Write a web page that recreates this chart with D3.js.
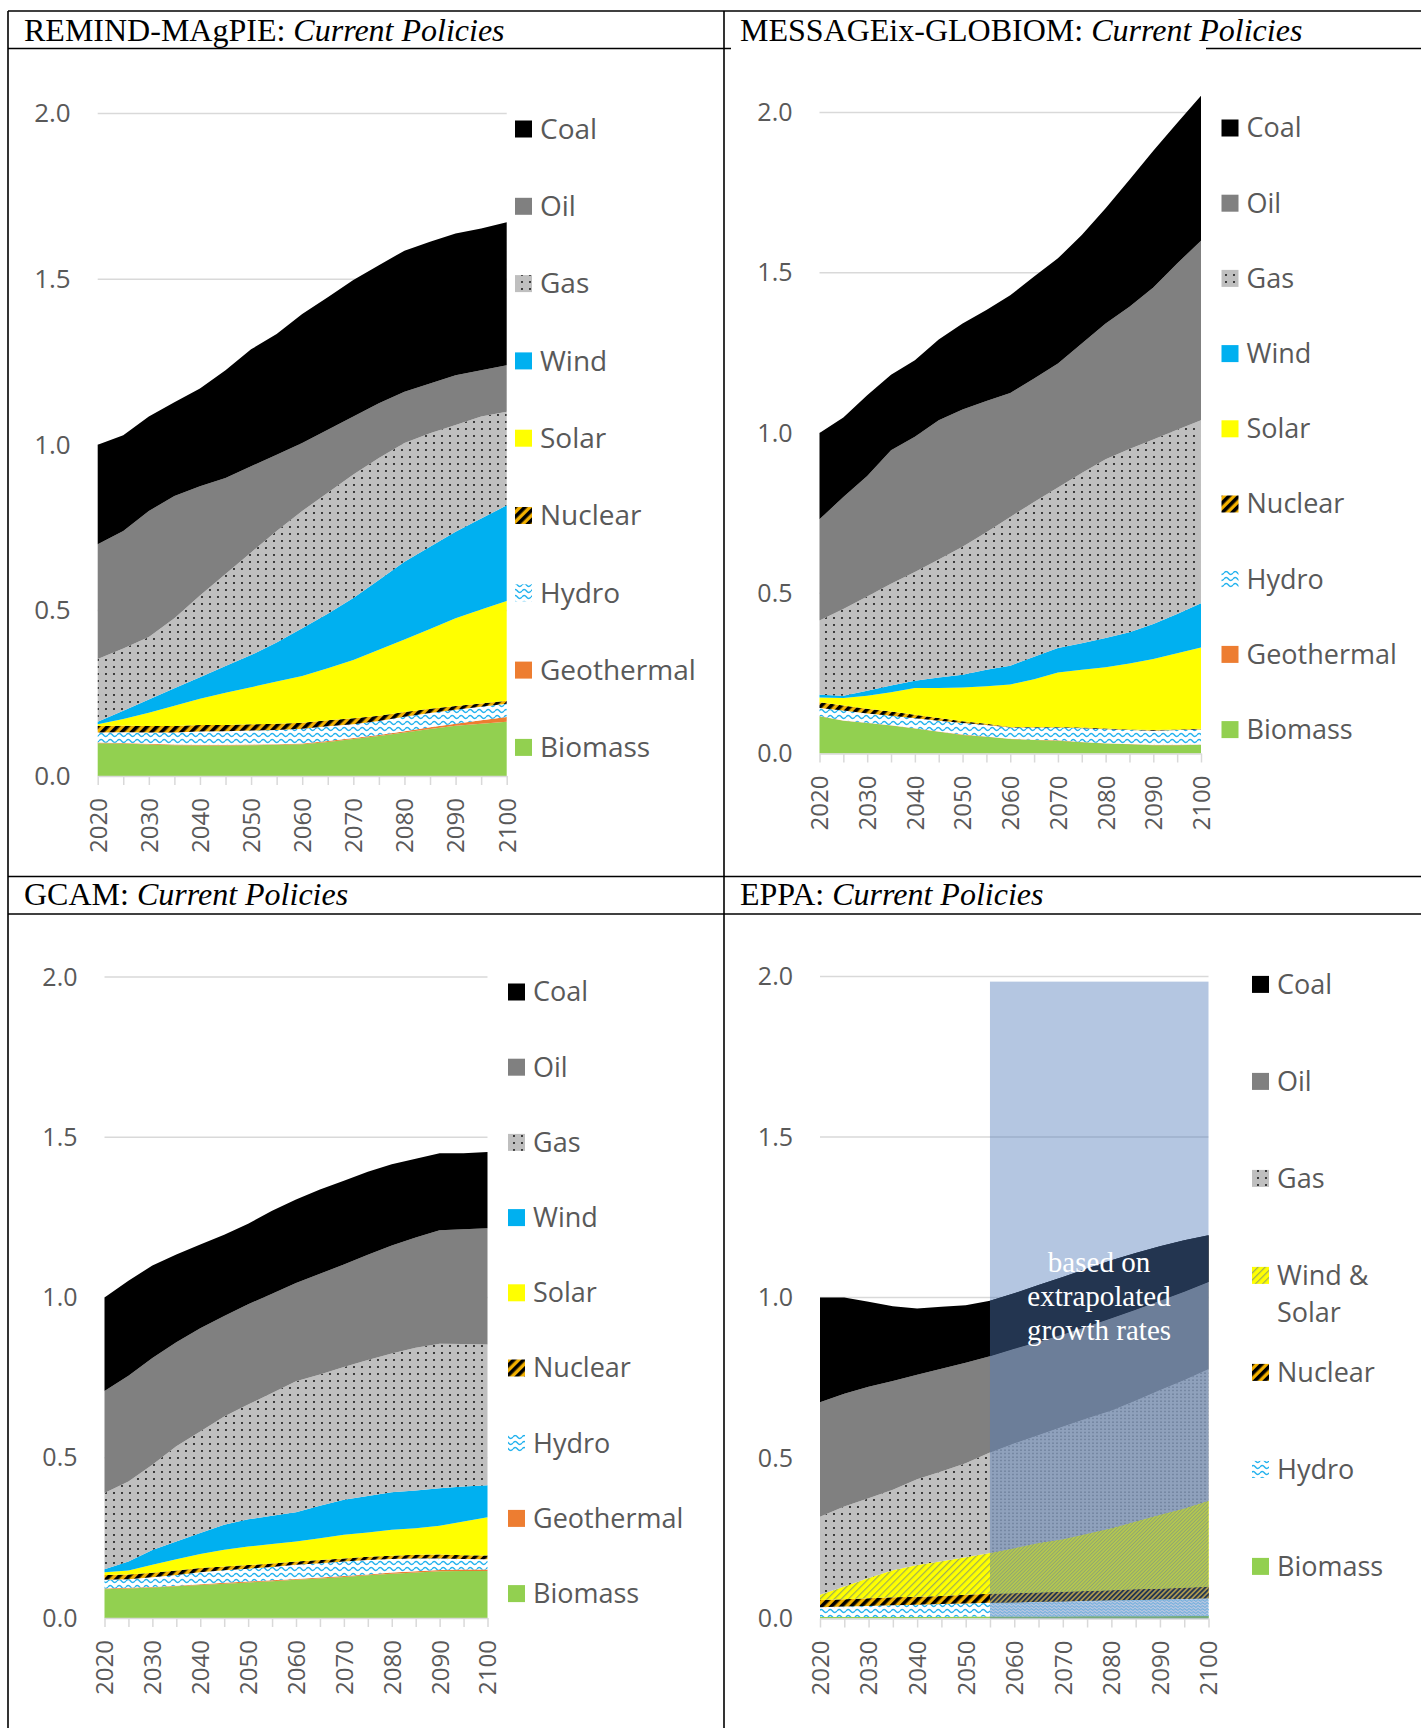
<!DOCTYPE html>
<html>
<head>
<meta charset="utf-8">
<script src="https://cdn.jsdelivr.net/npm/d3@7"></script>
<style>
  html, body { margin: 0; padding: 0; background: #fff; }
  svg { display: block; }
</style>
</head>
<body>
<svg id="fig" width="1421" height="1728"></svg>
<script>
// ---------- data (EJ-equivalent index, 2020 = 1.0) ----------
const years = [2020, 2025, 2030, 2035, 2040, 2045, 2050, 2055, 2060, 2065, 2070, 2075, 2080, 2085, 2090, 2095, 2100];
const yTicks = [0, 0.5, 1, 1.5, 2];

// REMIND-MAgPIE
const remindBiomass    = [.099,.098,.095,.093,.092,.092,.093,.094,.096,.103,.112,.121,.131,.142,.152,.158,.164];
const remindGeothermal = [.002,.002,.002,.002,.002,.002,.002,.002,.002,.003,.003,.003,.004,.005,.006,.010,.014];
const remindHydro      = [.030,.032,.034,.036,.040,.041,.042,.043,.045,.044,.041,.042,.044,.043,.042,.041,.040];
const remindNuclear    = [.020,.020,.020,.020,.020,.019,.019,.019,.018,.018,.018,.016,.014,.013,.011,.010,.009];
const remindSolar      = [.005,.020,.040,.061,.079,.097,.112,.127,.141,.157,.176,.199,.219,.241,.265,.284,.301];
const remindWind       = [.008,.025,.040,.053,.065,.081,.097,.118,.144,.165,.187,.211,.235,.248,.261,.274,.289];
const remindGas        = [.189,.188,.189,.211,.247,.278,.310,.337,.354,.365,.373,.368,.358,.343,.323,.308,.283];
const remindOil        = [.347,.355,.380,.369,.330,.290,.260,.230,.205,.190,.175,.165,.155,.150,.150,.140,.140];
const remindCoal       = [.300,.289,.285,.283,.295,.325,.353,.364,.390,.400,.412,.417,.426,.428,.428,.428,.432];

// MESSAGEix-GLOBIOM
const messageBiomass    = [.116,.102,.095,.087,.078,.068,.058,.052,.045,.042,.040,.035,.031,.029,.026,.026,.027];
const messageGeothermal = [.001,.001,.001,.001,.001,.001,.001,.001,.001,.001,.001,.001,.001,.001,.001,.001,.001];
const messageHydro      = [.025,.031,.029,.030,.031,.033,.036,.036,.035,.038,.040,.043,.044,.043,.044,.046,.047];
const messageNuclear    = [.018,.016,.015,.013,.011,.009,.006,.004,.002,.002,.002,.002,.002,.002,.002,.002,.002];
const messageSolar      = [.015,.023,.040,.060,.083,.093,.105,.117,.132,.149,.170,.180,.191,.206,.222,.238,.254];
const messageWind       = [.008,.007,.016,.021,.023,.033,.040,.051,.059,.070,.076,.083,.091,.097,.109,.122,.138];
const messageGas        = [.232,.271,.294,.318,.339,.368,.399,.429,.464,.483,.501,.531,.558,.572,.576,.575,.571];
const messageOil        = [.316,.349,.376,.416,.422,.435,.428,.410,.387,.385,.387,.404,.424,.444,.474,.519,.560];
const messageCoal       = [.269,.248,.252,.236,.239,.252,.269,.284,.305,.318,.328,.339,.359,.396,.427,.438,.452];

// GCAM
const gcamBiomass    = [.090,.092,.095,.099,.103,.107,.111,.115,.119,.123,.128,.133,.138,.142,.146,.147,.147];
const gcamGeothermal = [.002,.002,.002,.002,.002,.003,.003,.003,.003,.003,.003,.003,.004,.004,.004,.004,.004];
const gcamHydro      = [.027,.027,.030,.033,.038,.039,.040,.041,.044,.045,.045,.045,.042,.040,.036,.033,.032];
const gcamNuclear    = [.015,.015,.014,.014,.013,.012,.011,.011,.010,.010,.010,.010,.010,.011,.012,.012,.012];
const gcamSolar      = [.009,.012,.025,.035,.044,.052,.058,.061,.063,.068,.074,.076,.081,.083,.090,.105,.119];
const gcamWind       = [.009,.028,.046,.056,.065,.078,.085,.088,.091,.101,.109,.114,.117,.118,.117,.109,.100];
const gcamGas        = [.238,.250,.266,.297,.317,.338,.358,.383,.409,.410,.414,.424,.433,.445,.451,.445,.439];
const gcamOil        = [.318,.330,.333,.324,.322,.313,.313,.310,.306,.314,.320,.328,.337,.344,.354,.358,.363];
const gcamCoal       = [.292,.296,.289,.274,.261,.254,.251,.259,.261,.263,.261,.259,.254,.246,.240,.237,.238];

// EPPA (values after 2055 follow extrapolated growth rates)
const eppaBiomass   = [.005,.005,.005,.005,.005,.005,.006,.006,.006,.006,.006,.007,.007,.007,.007,.008,.008];
const eppaHydro     = [.030,.032,.034,.036,.038,.040,.041,.043,.044,.046,.047,.048,.050,.051,.053,.053,.055];
const eppaNuclear   = [.023,.023,.024,.025,.025,.025,.027,.028,.029,.029,.030,.031,.031,.033,.033,.035,.036];
const eppaWindSolar = [.016,.040,.063,.084,.099,.108,.117,.127,.140,.154,.164,.178,.193,.211,.230,.247,.268];
const eppaGas       = [.243,.249,.249,.251,.267,.280,.293,.313,.327,.337,.351,.360,.367,.377,.389,.400,.410];
const eppaOil       = [.357,.351,.347,.339,.325,.320,.313,.300,.294,.290,.287,.286,.287,.283,.278,.275,.271];
const eppaCoal      = [.326,.300,.265,.233,.207,.193,.179,.173,.173,.177,.179,.180,.181,.177,.170,.160,.146];
const eppaExtrapolationStart = 2055;

// ---------- drawing ----------
const svg = d3.select('#fig');
const defs = svg.append('defs');
const AXIS_GREY = '#d9d9d9';
const TEXT_GREY = '#595959';
const SANS = '"Open Sans", "DejaVu Sans", sans-serif';
const SERIF = '"Liberation Serif", "Times New Roman", serif';

// Fill patterns; the suffixed set is a finer version used for the extrapolated EPPA years
function makePatterns(suffix, scale) {
  const sc = scale === 1 ? '' : `scale(${scale}) `;

  const gas = defs.append('pattern').attr('id', 'gasDots' + suffix)
    .attr('patternUnits', 'userSpaceOnUse').attr('width', 8).attr('height', 7);
  if (sc) gas.attr('patternTransform', sc);
  gas.append('rect').attr('width', 8).attr('height', 7).attr('fill', '#bfbfbf');
  gas.append('circle').attr('cx', 2).attr('cy', 2).attr('r', 1.05).attr('fill', '#1a1a1a');

  const nuc = defs.append('pattern').attr('id', 'nucStripes' + suffix)
    .attr('patternUnits', 'userSpaceOnUse').attr('width', 7).attr('height', 7)
    .attr('patternTransform', sc + 'rotate(45)');
  nuc.append('rect').attr('width', 7).attr('height', 7).attr('fill', '#f2b000');
  nuc.append('rect').attr('width', 3.6).attr('height', 7).attr('fill', '#000');

  const hyd = defs.append('pattern').attr('id', 'hydroWaves' + suffix)
    .attr('patternUnits', 'userSpaceOnUse').attr('width', 9).attr('height', 6);
  if (sc) hyd.attr('patternTransform', sc);
  hyd.append('rect').attr('width', 9).attr('height', 6).attr('fill', '#fff');
  hyd.append('path').attr('d', 'M0,3 C1.5,1 3,1 4.5,3 S7.5,5 9,3')
    .attr('fill', 'none').attr('stroke', '#22b2ee').attr('stroke-width', 1.4);

  const ws = defs.append('pattern').attr('id', 'wsHatch' + suffix)
    .attr('patternUnits', 'userSpaceOnUse').attr('width', 5).attr('height', 5)
    .attr('patternTransform', sc + 'rotate(45)');
  ws.append('rect').attr('width', 5).attr('height', 5).attr('fill', '#ffff00');
  ws.append('rect').attr('width', 1.2).attr('height', 5).attr('fill', '#9fae55');
}
makePatterns('', 1);
makePatterns('Fine', 0.5);

const fills = {
  'Coal': '#000000', 'Oil': '#808080', 'Gas': 'gasDots', 'Wind': '#00b0f0',
  'Solar': '#ffff00', 'Nuclear': 'nucStripes', 'Hydro': 'hydroWaves',
  'Geothermal': '#ed7d31', 'Biomass': '#92d050', 'Wind & Solar': 'wsHatch'
};
function fillFor(key, suffix) {
  const f = fills[key];
  return f.startsWith('#') ? f : `url(#${f}${suffix || ''})`;
}

const panels = [
  { title: 'REMIND-MAgPIE', tx: 24, ty: 41, x0: 97.7, x1: 506.7, yZero: 776, yTop: 113.5,
    legX: 515, legY: 129, legStep: 77.3, legFont: 28, axisFont: 26,
    series: [['Biomass', remindBiomass], ['Geothermal', remindGeothermal], ['Hydro', remindHydro],
             ['Nuclear', remindNuclear], ['Solar', remindSolar], ['Wind', remindWind],
             ['Gas', remindGas], ['Oil', remindOil], ['Coal', remindCoal]] },
  { title: 'MESSAGEix-GLOBIOM', tx: 740, ty: 41, x0: 819.5, x1: 1201, yZero: 753.5, yTop: 112.5,
    legX: 1221.5, legY: 128, legStep: 75.2, legFont: 27, axisFont: 25,
    series: [['Biomass', messageBiomass], ['Geothermal', messageGeothermal], ['Hydro', messageHydro],
             ['Nuclear', messageNuclear], ['Solar', messageSolar], ['Wind', messageWind],
             ['Gas', messageGas], ['Oil', messageOil], ['Coal', messageCoal]] },
  { title: 'GCAM', tx: 24, ty: 905, x0: 104.5, x1: 487.5, yZero: 1618, yTop: 977,
    legX: 508, legY: 992, legStep: 75.2, legFont: 27, axisFont: 25,
    series: [['Biomass', gcamBiomass], ['Geothermal', gcamGeothermal], ['Hydro', gcamHydro],
             ['Nuclear', gcamNuclear], ['Solar', gcamSolar], ['Wind', gcamWind],
             ['Gas', gcamGas], ['Oil', gcamOil], ['Coal', gcamCoal]] },
  { title: 'EPPA', tx: 740, ty: 905, x0: 820, x1: 1208.5, yZero: 1618.5, yTop: 976.5,
    legX: 1252, legY: 984.4, legStep: 97, legFont: 27, axisFont: 25, extrapolated: true,
    series: [['Biomass', eppaBiomass], ['Hydro', eppaHydro], ['Nuclear', eppaNuclear],
             ['Wind & Solar', eppaWindSolar], ['Gas', eppaGas], ['Oil', eppaOil], ['Coal', eppaCoal]] }
];

// Table frame
const frame = svg.append('g').attr('stroke', '#000').attr('stroke-width', 1.6);
[[8, 11, 1421, 11], [8, 48.5, 731, 48.5], [1206, 48.5, 1421, 48.5],
 [8, 876.5, 1421, 876.5], [8, 914, 1421, 914],
 [8, 11, 8, 1728], [724, 11, 724, 1728]].forEach(([a, b, c, d]) =>
  frame.append('line').attr('x1', a).attr('y1', b).attr('x2', c).attr('y2', d));

panels.forEach((p, pi) => {
  const g = svg.append('g');

  // header
  const head = g.append('text').attr('x', p.tx).attr('y', p.ty)
    .attr('font-family', SERIF).attr('font-size', 32).attr('fill', '#000');
  head.append('tspan').text(p.title + ': ');
  head.append('tspan').attr('font-style', 'italic').text('Current Policies');

  const x = d3.scaleLinear().domain([2020, 2100]).range([p.x0, p.x1]);
  const y = d3.scaleLinear().domain([0, 2]).range([p.yZero, p.yTop]);

  // gridlines
  g.append('g').selectAll('line').data(yTicks.filter(v => v > 0)).join('line')
    .attr('x1', p.x0).attr('x2', p.x1)
    .attr('y1', d => y(d)).attr('y2', d => y(d))
    .attr('stroke', AXIS_GREY).attr('stroke-width', 1.5);

  // stacked areas
  const keys = p.series.map(s => s[0]);
  const rows = years.map((yr, i) => {
    const r = { year: yr };
    p.series.forEach(([k, vals]) => { r[k] = vals[i]; });
    return r;
  });
  const stacked = d3.stack().keys(keys)(rows);
  const area = d3.area().x(d => x(d.data.year)).y0(d => y(d[0])).y1(d => y(d[1]));

  g.append('g').selectAll('path').data(stacked).join('path')
    .attr('d', area).attr('fill', d => fillFor(d.key)).attr('stroke', 'none');

  if (p.extrapolated) {
    const clipId = 'extrap' + pi;
    g.append('clipPath').attr('id', clipId).append('rect')
      .attr('x', x(eppaExtrapolationStart)).attr('y', p.yTop - 20)
      .attr('width', x(2100) - x(eppaExtrapolationStart) + 1).attr('height', p.yZero - p.yTop + 20);
    g.append('g').attr('clip-path', `url(#${clipId})`).selectAll('path').data(stacked).join('path')
      .attr('d', area).attr('fill', d => fillFor(d.key, 'Fine')).attr('stroke', 'none');
  }

  // x axis
  const xAxis = d3.axisBottom(x).tickValues(years).tickSize(9).tickSizeOuter(0)
    .tickFormat(d => d % 10 === 0 ? String(d) : '');
  const ax = g.append('g').attr('transform', `translate(0,${p.yZero})`).call(xAxis)
    .attr('font-family', SANS).attr('font-size', 24);
  ax.select('.domain').attr('stroke', AXIS_GREY).attr('stroke-width', 1.5);
  ax.selectAll('.tick line').attr('stroke', AXIS_GREY).attr('stroke-width', 1.5);
  ax.selectAll('.tick text').attr('transform', 'rotate(-90)').attr('text-anchor', 'end')
    .attr('x', -22).attr('y', 0).attr('dy', '0.35em').attr('fill', TEXT_GREY);

  // y axis labels
  const yAxis = d3.axisLeft(y).tickValues(yTicks).tickSize(0).tickPadding(27)
    .tickFormat(d3.format('.1f'));
  const ay = g.append('g').attr('transform', `translate(${p.x0},0)`).call(yAxis)
    .attr('font-family', SANS).attr('font-size', p.axisFont);
  ay.select('.domain').remove();
  ay.selectAll('.tick text').attr('fill', TEXT_GREY);

  // extrapolation overlay
  if (p.extrapolated) {
    g.append('rect').attr('x', x(eppaExtrapolationStart)).attr('y', y(1.984))
      .attr('width', x(2100) - x(eppaExtrapolationStart)).attr('height', y(0) - y(1.984))
      .attr('fill', 'rgb(80,124,185)').attr('fill-opacity', 0.43);
    const note = g.append('text').attr('font-family', SERIF).attr('font-size', 29)
      .attr('fill', '#fff').attr('text-anchor', 'middle');
    ['based on', 'extrapolated', 'growth rates'].forEach((line, i) =>
      note.append('tspan').attr('x', 1099).attr('y', 1272 + i * 34).text(line));
  }

  // legend (top to bottom = reverse stacking order)
  const leg = g.append('g');
  keys.slice().reverse().forEach((k, i) => {
    const cy = p.legY + i * p.legStep;
    leg.append('rect').attr('x', p.legX).attr('y', cy - 8.5).attr('width', 17).attr('height', 17)
      .attr('fill', fillFor(k));
    const t = leg.append('text').attr('font-family', SANS).attr('font-size', p.legFont).attr('fill', TEXT_GREY);
    const lines = k === 'Wind & Solar' ? ['Wind &', 'Solar'] : [k];
    lines.forEach((ln, j) => t.append('tspan').attr('x', p.legX + 25).attr('y', cy + j * 37.5)
      .attr('dy', '0.35em').text(ln));
  });
});
</script>
</body>
</html>
